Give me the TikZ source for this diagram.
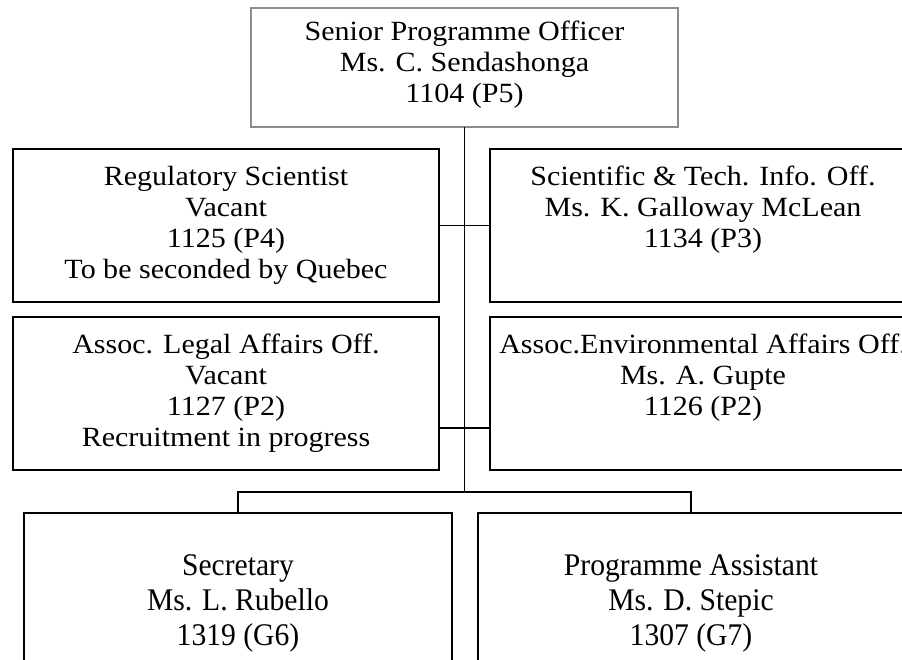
\documentclass[tikz,border=0pt]{standalone}
\usepackage{fontspec}
\newfontfamily\upfont{Liberation Serif}[FakeStretch=1.08]
\newfontfamily\lowfont{Liberation Serif}[FakeStretch=0.94]
\begin{document}
\begin{tikzpicture}[x=1pt,y=-1pt,
  box/.style={draw=black, line width=1.6pt, inner sep=0pt, outer sep=0pt},
  topbox/.style={draw=black!45, line width=1.6pt, inner sep=0pt, outer sep=0pt},
  uptext/.style={align=center, inner sep=0pt, font=\upfont\fontsize{27.8}{31}\selectfont},
  lowtext/.style={align=center, inner sep=0pt, font=\lowfont\fontsize{31.5}{35}\selectfont},
  wire/.style={draw=black, line width=1.4pt}]
\useasboundingbox (0,0) rectangle (902,660);
\clip (0,0) rectangle (902,660);
\fill[white] (0,0) rectangle (902,660);

% boxes
\node[topbox, minimum width=427pt, minimum height=119pt] (top) at (464.5,67.5) {};
\node[box, minimum width=426pt, minimum height=153pt] (reg) at (226,225.5) {};
\node[box, minimum width=426pt, minimum height=153pt] (sci) at (703,225.5) {};
\node[box, minimum width=426pt, minimum height=153pt] (leg) at (226,393.5) {};
\node[box, minimum width=426pt, minimum height=153pt] (env) at (703,393.5) {};
\node[box, minimum width=428pt, minimum height=187pt] (sec) at (238,606.5) {};
\node[box, minimum width=426pt, minimum height=187pt] (pa) at (691,606.5) {};

% texts
\node[uptext] (topT) at (464.5,65) {Senior Programme Officer\\Ms. C. Sendashonga\\1104 (P5)};
\node[uptext] (regT) at (226,225) {Regulatory Scientist\\Vacant\\1125 (P4)\\To be seconded by Quebec};
\node[uptext] (sciT) at (703,210) {Scientific \& Tech. Info. Off.\\Ms. K. Galloway McLean\\1134 (P3)};
\node[uptext] (legT) at (226,393.5) {Assoc. Legal Affairs Off.\\Vacant\\1127 (P2)\\Recruitment in progress};
\node[uptext] (envT) at (703,377.5) {Assoc.Environmental Affairs Off.\\Ms. A. Gupte\\1126 (P2)};
\node[lowtext] (secT) at (238,603) {Secretary\\Ms. L. Rubello\\1319 (G6)};
\node[lowtext] (paT) at (691,603) {Programme Assistant\\Ms. D. Stepic\\1307 (G7)};

% connectors
\coordinate (hub) at (464.5,492);
\coordinate (j2) at (464.5,428);
\draw[wire] (top.south) -- (hub);
\draw[wire] (reg.east) -- (sci.west);
\draw[wire] (leg.east |- j2) -- (env.west |- j2);
\draw[wire] (sec.north) |- (hub) -| (pa.north);
\end{tikzpicture}
\end{document}
